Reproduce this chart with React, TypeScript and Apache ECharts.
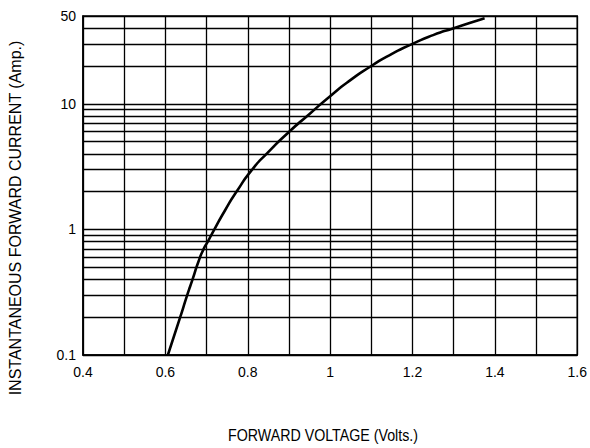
import React, { useEffect, useRef } from "react";
import * as echarts from "echarts";

const voltage = [0.606, 0.636, 0.653, 0.666, 0.68, 0.693, 0.703, 0.719, 0.745, 0.773, 0.811, 0.848, 0.9, 0.95, 1.0, 1.05, 1.1, 1.15, 1.2, 1.25, 1.3, 1.375];
const current = [0.1, 0.2, 0.3, 0.4, 0.55, 0.7, 0.8, 1.0, 1.42, 2.0, 3.0, 4.07, 5.97, 8.3, 11.5, 15.5, 20, 25, 30, 35.2, 40, 48];
const yGridValues = [0.1, 0.2, 0.3, 0.4, 0.5, 0.6, 0.7, 0.8, 0.9, 1, 2, 3, 4, 5, 6, 7, 8, 9, 10, 20, 30, 40, 50];
const yTickLabels = [0.1, 1, 10, 50];
const xTickLabels = [0.4, 0.6, 0.8, 1, 1.2, 1.4, 1.6];
const xTitle = "FORWARD VOLTAGE (Volts.)";
const yTitle = "INSTANTANEOUS FORWARD CURRENT (Amp.)";

const FONT = "'Liberation Sans', Arial, Helvetica, sans-serif";

export default function App() {
  const ref = useRef<HTMLDivElement>(null);
  useEffect(() => {
    document.body.style.margin = "0";
    const chart = echarts.init(ref.current!, null, { renderer: "svg" });
    const data = voltage.map((v, i) => [v, current[i]]);
    chart.setOption({
      animation: false,
      backgroundColor: "#fff",
      grid: {
        left: 83,
        right: 10,
        top: 16,
        bottom: 93,
        show: true,
        borderColor: "#000",
        borderWidth: 1.5,
      },
      xAxis: {
        type: "value",
        min: 0.4,
        max: 1.6,
        interval: 0.1,
        axisLine: { show: true, lineStyle: { color: "#000", width: 1.5 } },
        axisTick: { show: false },
        splitLine: { show: true, lineStyle: { color: "#000", width: 1.3 } },
        axisLabel: {
          color: "#000",
          fontFamily: FONT,
          fontSize: 14,
          margin: 10,
          formatter: (v: number) => {
            const hit = xTickLabels.find((t) => Math.abs(t - v) < 1e-6);
            return hit === undefined ? "" : String(hit);
          },
        },
      },
      yAxis: {
        type: "log",
        logBase: 10,
        min: 0.1,
        max: 50,
        axisLine: { show: true, lineStyle: { color: "#000", width: 1.5 } },
        axisTick: { show: false },
        splitLine: { show: false },
        axisLabel: {
          color: "#000",
          fontFamily: FONT,
          fontSize: 14,
          margin: 7,
          customValues: yTickLabels,
          formatter: (v: number) => String(v),
        },
      },
      graphic: [
        {
          type: "text",
          x: 15,
          y: 218,
          rotation: Math.PI / 2,
          style: {
            text: yTitle,
            fill: "#000",
            font: `16px ${FONT}`,
            align: "center",
            verticalAlign: "middle",
          },
        },
        {
          type: "text",
          x: 323,
          y: 435,
          scaleX: 0.89,
          style: {
            text: xTitle,
            fill: "#000",
            font: `16px ${FONT}`,
            align: "center",
            verticalAlign: "middle",
          },
        },
      ],
      series: [
        {
          type: "line",
          data,
          smooth: 0.7,
          showSymbol: false,
          symbol: "none",
          lineStyle: { color: "#000", width: 2.6 },
          z: 5,
          markLine: {
            silent: true,
            symbol: "none",
            label: { show: false },
            lineStyle: { color: "#000", width: 1.3, type: "solid" },
            data: yGridValues.map((y) => ({ yAxis: y })),
            z: 1,
          },
        },
      ],
    });
    return () => chart.dispose();
  }, []);
  return <div ref={ref} style={{ width: 590, height: 448 }} />;
}
